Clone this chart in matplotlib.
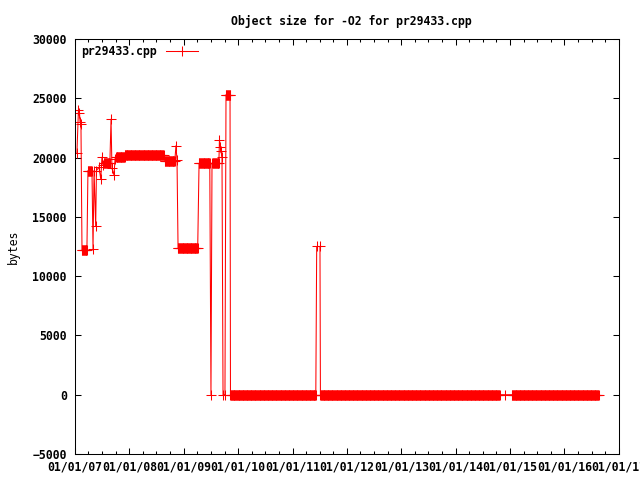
import pandas as pd
import matplotlib
matplotlib.use("Agg")
import matplotlib.pyplot as plt
import matplotlib.dates as mdates

# Object size readings (bytes)
# single readings: date, value
point_dates = [
    "2007-01-14", "2007-01-24", "2007-01-31", "2007-02-04", "2007-02-10",
    "2007-04-25", "2007-05-02", "2007-05-09", "2007-05-20", "2007-05-25",
    "2007-06-11", "2007-06-23", "2007-07-01", "2007-07-08",
    "2007-08-31", "2007-09-06", "2007-09-20", "2007-09-27",
    "2008-11-09", "2008-11-16",
    "2009-07-02", "2009-07-09",
    "2009-08-28", "2009-09-04", "2009-09-07", "2009-09-14", "2009-09-21",
    "2009-10-04",
    "2009-11-10",
    "2011-06-12", "2011-07-04",
    "2014-11-27",
]
point_values = [
    20400, 24000, 23800, 23000, 22800,
    18900, 12260, 18900, 14200, 18900,
    19200, 18180, 20030, 19400,
    23240, 19100, 18520, 19900,
    21000, 19800,
    0, 19500,
    21460, 20880, 20540, 20030, 0,
    0,
    0,
    12500, 12500,
    0,
]

# flat stretches: start, end, value (readings every few days)
run_start = [
    "2007-02-17", "2007-03-29", "2007-07-15", "2007-10-04", "2007-12-01",
    "2008-08-27", "2008-11-23", "2009-04-13", "2009-07-16", "2009-10-11",
    "2009-11-13", "2011-07-07", "2015-01-13",
]
run_end = [
    "2007-03-23", "2007-04-20", "2007-08-24", "2007-11-30", "2008-08-20",
    "2008-11-02", "2009-04-06", "2009-06-25", "2009-08-25", "2009-11-07",
    "2011-06-06", "2014-10-23", "2016-08-19",
]
run_value = [
    12200, 18900, 19500, 20050, 20200,
    19700, 12400, 19500, 19500, 25300,
    0, 0, 0,
]

frames = [pd.DataFrame({"date": pd.to_datetime(point_dates), "bytes": point_values})]
for s, e, v in zip(run_start, run_end, run_value):
    d = pd.date_range(s, e, freq="3D")
    frames.append(pd.DataFrame({"date": d, "bytes": v}))
df = pd.concat(frames).sort_values("date")

plt.rcParams["font.family"] = "DejaVu Sans Mono"
plt.rcParams["font.weight"] = "bold"
plt.rcParams["font.size"] = 8.3

fig = plt.figure(figsize=(6.4, 4.8), dpi=100)
ax = fig.add_axes([75 / 640, 1 - 454 / 480, 544 / 640, 415 / 480])

ax.plot(df["date"], df["bytes"], color="#ff0000", lw=0.75, marker="+",
        ms=7, mew=0.75, label="pr29433.cpp")

ax.set_xlim(pd.Timestamp("2007-01-01"), pd.Timestamp("2017-01-01"))
ax.set_ylim(-5000, 30000)
ax.set_yticks(range(-5000, 30001, 5000))
ax.xaxis.set_major_locator(mdates.YearLocator())
ax.xaxis.set_minor_locator(mdates.MonthLocator(bymonth=[4, 7, 10]))
ax.xaxis.set_major_formatter(mdates.DateFormatter("%m/%d/%y"))
ax.tick_params(which="both", direction="in", top=True, right=True, width=0.75)
ax.tick_params(which="major", length=4.5)
ax.tick_params(which="minor", length=2.5)
ax.tick_params(axis="x", pad=5)
ax.tick_params(axis="y", pad=6)
for s in ax.spines.values():
    s.set_linewidth(0.75)

ax.set_ylabel("bytes", labelpad=9)
fig.text(351 / 640, 1 - 21 / 480, "Object size for -O2 for pr29433.cpp",
         ha="center", va="center")

ax.legend(loc="upper left", markerfirst=False, frameon=False, handlelength=2.8,
          borderaxespad=0.1, handletextpad=0.8, borderpad=0.4)

fig.savefig("out.png", dpi=100)
